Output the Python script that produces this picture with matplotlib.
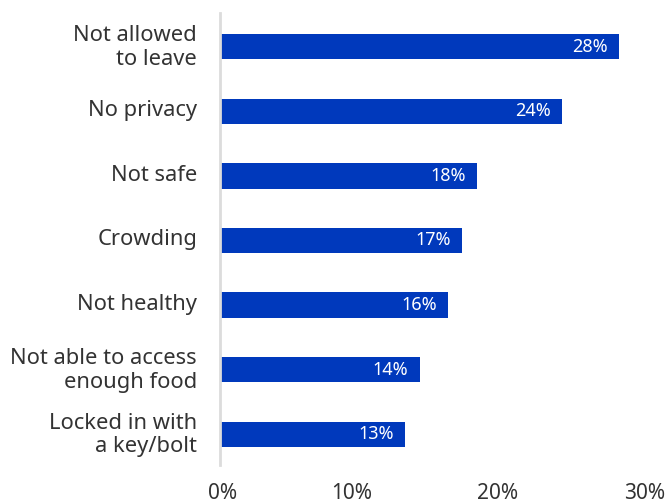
import matplotlib
matplotlib.use("Agg")
import matplotlib.pyplot as plt
from matplotlib.transforms import offset_copy, Affine2D

plt.rcParams["font.family"] = ["Noto Sans", "DejaVu Sans"]

categories = [
    "Not allowed\nto leave",
    "No privacy",
    "Not safe",
    "Crowding",
    "Not healthy",
    "Not able to access\nenough food",
    "Locked in with\na key/bolt",
]
values = [28, 24, 18, 17, 16, 14, 13]
xticks = [0, 10, 20, 30]
xtick_labels = ["0%", "10%", "20%", "30%"]
# small horizontal nudges (pixels) applied to the x tick labels
xtick_nudge = [2.5, -10.5, -7, -2.5]

bar_color = "#0039BC"
text_color = "#333333"

fig = plt.figure(figsize=(6.67, 5.04), dpi=100)
ax = fig.add_axes([220 / 667, 1 - 465 / 504, 427.5 / 667, 452 / 504])

ypos = list(range(len(categories)))
ax.barh(ypos, values, height=0.39, color=bar_color, zorder=2)

ax.set_xlim(0, 30)
ax.set_ylim(len(categories) - 0.5 - 0.023, -0.523)

for s in ["top", "right", "bottom"]:
    ax.spines[s].set_visible(False)
ax.spines["left"].set_color("#dcdcdc")
ax.spines["left"].set_linewidth(2)

ax.set_yticks(ypos)
ax.set_yticklabels(categories, fontsize=15.8, color=text_color,
                   linespacing=1.15)
ax.tick_params(axis="y", length=0, pad=16.5)
for lab in ax.get_yticklabels():
    lab.set_transform(lab.get_transform() + Affine2D().translate(0, 3))

ax.set_xticks(xticks)
ax.set_xticklabels(xtick_labels, fontsize=15, color=text_color)
ax.tick_params(axis="x", length=0, pad=13)
for lab, dx in zip(ax.get_xticklabels(), xtick_nudge):
    lab.set_transform(lab.get_transform() + Affine2D().translate(dx, 0))

label_tf = offset_copy(ax.transData, fig=fig, x=-11, y=0, units="dots")
for y, v in zip(ypos, values):
    ax.text(v, y, f"{v}%", transform=label_tf, ha="right", va="center",
            color="white", fontsize=13, zorder=3)

fig.savefig("out.png", dpi=100)
